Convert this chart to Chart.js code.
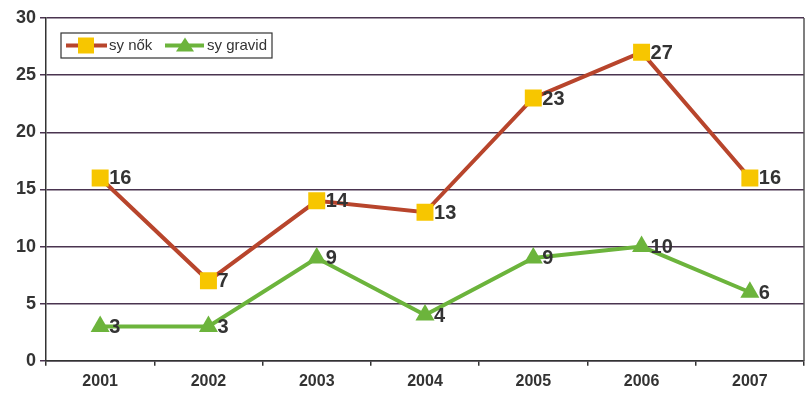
<!DOCTYPE html>
<html>
<head>
<meta charset="utf-8">
<script src="https://cdn.jsdelivr.net/npm/chart.js@4.4.1/dist/chart.umd.min.js"></script>
<style>
  html, body { margin: 0; padding: 0; background: #fff; }
  #wrap { width: 810px; height: 394px; overflow: hidden; }
</style>
</head>
<body>
<div id="wrap"><canvas id="myChart" width="816" height="394"></canvas></div>
<script>
// chart data
const years = ['2001', '2002', '2003', '2004', '2005', '2006', '2007'];
const syNok = [16, 7, 14, 13, 23, 27, 16];
const syGravid = [3, 3, 9, 4, 9, 10, 6];
const yTicks = [0, 5, 10, 15, 20, 25, 30];

const gridColor = '#4a3450';
const textColor = '#333333';

// value labels to the right of each point
const valueLabels = {
  id: 'valueLabels',
  afterDatasetsDraw(chart) {
    const c = chart.ctx;
    c.save();
    c.font = 'bold 20px Arial, "Liberation Sans", sans-serif';
    c.fillStyle = textColor;
    c.textBaseline = 'middle';
    chart.data.datasets.forEach((ds, i) => {
      chart.getDatasetMeta(i).data.forEach((pt, j) => {
        c.fillText(ds.data[j], pt.x + 9, pt.y + 1);
      });
    });
    c.restore();
  }
};

// boxed legend inside the plot, top left
const boxLegend = {
  id: 'boxLegend',
  afterDraw(chart) {
    const c = chart.ctx;
    const x = 61, y = 33, w = 211, h = 25;
    c.save();
    c.fillStyle = '#fff';
    c.fillRect(x, y, w, h);
    c.strokeStyle = '#333';
    c.lineWidth = 1.2;
    c.strokeRect(x, y, w, h);
    c.font = '15px Arial, "Liberation Sans", sans-serif';
    c.fillStyle = textColor;
    c.textBaseline = 'middle';
    const my = y + h / 2;
    // sy nők
    c.strokeStyle = '#b8452c';
    c.lineWidth = 4;
    c.beginPath(); c.moveTo(x + 5, my); c.lineTo(x + 46, my); c.stroke();
    c.fillStyle = '#f7c600';
    c.fillRect(x + 17, my - 8, 16, 16);
    c.fillStyle = textColor;
    c.fillText('sy nők', x + 48, my);
    // sy gravid
    c.strokeStyle = '#6cb43c';
    c.beginPath(); c.moveTo(x + 104, my); c.lineTo(x + 143, my); c.stroke();
    c.fillStyle = '#6cb43c';
    c.beginPath();
    c.moveTo(x + 124, my - 8); c.lineTo(x + 133, my + 6); c.lineTo(x + 115, my + 6);
    c.closePath(); c.fill();
    c.fillStyle = textColor;
    c.fillText('sy gravid', x + 146, my);
    c.restore();
  }
};

// right border of plot area
const rightBorder = {
  id: 'rightBorder',
  afterDraw(chart) {
    const a = chart.chartArea;
    const c = chart.ctx;
    c.save();
    c.strokeStyle = '#555';
    c.lineWidth = 1.5;
    c.beginPath(); c.moveTo(a.right, a.top); c.lineTo(a.right, a.bottom); c.stroke();
    c.restore();
  }
};

const ctx = document.getElementById('myChart');

new Chart(ctx, {
  type: 'line',
  data: {
    labels: years,
    datasets: [{
      label: 'sy nők',
      data: syNok,
      borderColor: '#b8452c',
      borderWidth: 4,
      pointStyle: 'rect',
      pointRadius: 12,
      pointBackgroundColor: '#f7c600',
      pointBorderColor: '#f7c600',
      pointBorderWidth: 0,
      tension: 0
    }, {
      label: 'sy gravid',
      data: syGravid,
      borderColor: '#6cb43c',
      borderWidth: 4,
      pointStyle: 'triangle',
      pointRadius: 11,
      pointBackgroundColor: '#6cb43c',
      pointBorderColor: '#6cb43c',
      pointBorderWidth: 0,
      tension: 0
    }]
  },
  options: {
    responsive: false,
    animation: false,
    layout: { padding: { left: 12, right: 0, top: 18, bottom: -3 } },
    plugins: {
      legend: { display: false },
      tooltip: { enabled: false }
    },
    scales: {
      x: {
        offset: true,
        grid: { drawOnChartArea: false, offset: true, tickLength: 5, color: '#333', lineWidth: 1.5 },
        border: { color: '#333', width: 1.5 },
        ticks: { color: textColor, font: { family: 'Arial, "Liberation Sans", sans-serif', size: 16, weight: 'bold' }, padding: 6 }
      },
      y: {
        min: 0,
        max: 30,
        afterBuildTicks: axis => { axis.ticks = yTicks.map(v => ({ value: v })); },
        grid: { color: gridColor, lineWidth: 1.5, tickLength: 6 },
        border: { color: '#333', width: 1.5 },
        ticks: { color: textColor, font: { family: 'Arial, "Liberation Sans", sans-serif', size: 18, weight: 'bold' }, padding: 4 }
      }
    }
  },
  plugins: [valueLabels, boxLegend, rightBorder]
});
</script>
</body>
</html>
